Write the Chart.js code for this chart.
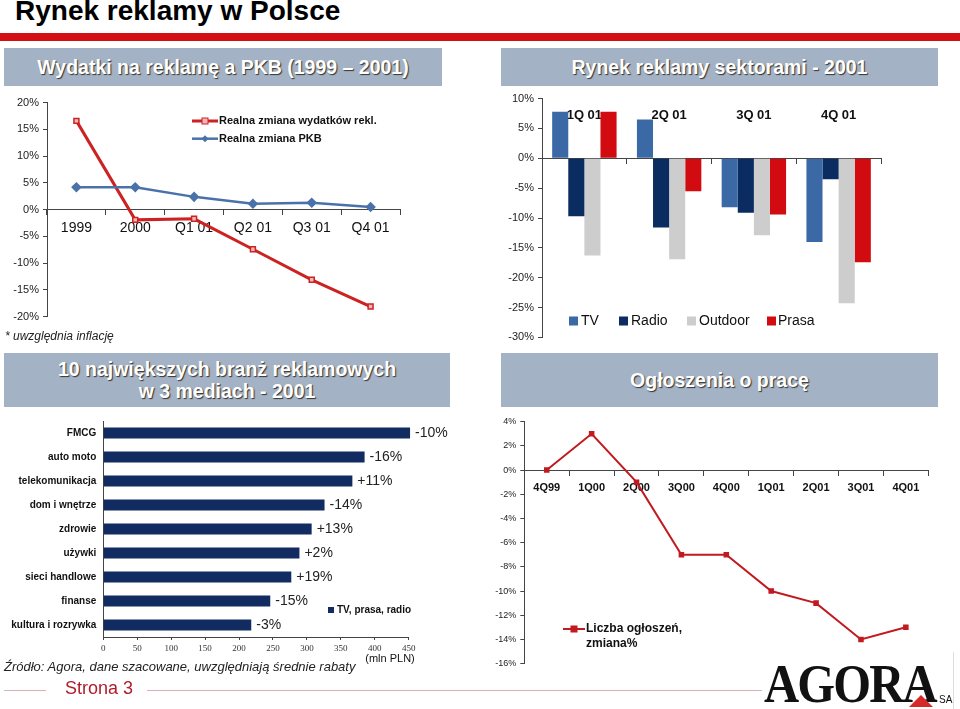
<!DOCTYPE html>
<html>
<head>
<meta charset="utf-8">
<script src="https://cdn.jsdelivr.net/npm/chart.js@4"></script>
<style>
  body { margin: 0; width: 960px; height: 709px; background: #fff; position: relative; overflow: hidden; font-family: "Liberation Sans", Arial, sans-serif; }
  .abs { position: absolute; }
  .hdr { position: absolute; background: #a3b2c4; color: #fff; font-weight: bold; font-size: 19.5px; text-align: center;
         text-shadow: 1px 1px 1px #333; display: flex; align-items: center; justify-content: center; line-height: 22px; }
  canvas { position: absolute; }
</style>
</head>
<body>
<div class="abs" style="left:15px; top:-5px; font-size:28px; font-weight:bold; color:#000; white-space:nowrap;">Rynek reklamy w Polsce</div>
<div class="abs" style="left:0; top:33px; width:960px; height:8px; background:#d40f14;"></div>

<div class="hdr" style="left:4px; top:48px; width:438px; height:38px;">Wydatki na reklamę a PKB (1999 – 2001)</div>
<div class="hdr" style="left:501px; top:48px; width:437px; height:38px;">Rynek reklamy sektorami - 2001</div>
<div class="hdr" style="left:4px; top:353px; width:446px; height:54px;">10 największych branż reklamowych<br>w 3 mediach - 2001</div>
<div class="hdr" style="left:501px; top:353px; width:437px; height:54px;">Ogłoszenia o pracę</div>

<canvas id="c1" width="480" height="250" style="left:0; top:90px;"></canvas>
<canvas id="c2" width="480" height="260" style="left:480px; top:88px;"></canvas>
<canvas id="c3" width="480" height="262" style="left:0; top:408px;"></canvas>
<canvas id="c4" width="480" height="265" style="left:480px; top:408px;"></canvas>

<div class="abs" style="left:5px; top:329px; font-size:12px; font-style:italic; color:#222;">* uwzględnia inflację</div>
<div class="abs" style="left:4px; top:659px; font-size:13px; font-style:italic; color:#222; white-space:nowrap;">Źródło: Agora, dane szacowane, uwzględniają średnie rabaty</div>

<div class="abs" style="left:4px; top:690px; width:42px; height:1px; background:#d9b3b3;"></div>
<div class="abs" style="left:147px; top:690px; width:615px; height:1px; background:#d9b3b3;"></div>
<div class="abs" style="left:65px; top:678px; font-size:18px; color:#b01c2b;">Strona 3</div>

<div class="abs" style="left:764px; top:654px; font-family:'Liberation Serif', serif; font-weight:bold; font-size:54px; color:#111; letter-spacing:-2px; line-height:60px; transform:scaleX(0.9); transform-origin:left top;">AGORA</div>
<div class="abs" style="left:909px; top:695px; width:0; height:0; border-left:12px solid transparent; border-right:12px solid transparent; border-bottom:12px solid #d62a2a;"></div>
<div class="abs" style="left:939px; top:694px; font-size:10px; color:#111;">SA</div>
<div class="abs" style="left:953px; top:652px; width:1px; height:57px; background:#ddd;"></div>

<script>
// --- Wydatki na reklamę a PKB ---
const periods1 = ['1999', '2000', 'Q1 01', 'Q2 01', 'Q3 01', 'Q4 01'];
const adSpend = [16.6, -1.9, -1.7, -7.4, -13.1, -18.1];
const gdp = [4.2, 4.2, 2.4, 1.1, 1.3, 0.5];

// --- Rynek reklamy sektorami ---
const quarters2 = ['1Q 01', '2Q 01', '3Q 01', '4Q 01'];
const tvVals = [7.8, 6.5, -8.2, -14.0];
const radioVals = [-9.7, -11.6, -9.1, -3.5];
const outdoorVals = [-16.3, -16.9, -12.9, -24.3];
const prasaVals = [7.8, -5.5, -9.4, -17.4];

// --- 10 największych branż ---
const branches = ['FMCG', 'auto moto', 'telekomunikacja', 'dom i wnętrze', 'zdrowie', 'używki', 'sieci handlowe', 'finanse', 'kultura i rozrywka'];
const spend = [452, 385, 367, 326, 307, 289, 277, 246, 218];
const changeLabels = ['-10%', '-16%', '+11%', '-14%', '+13%', '+2%', '+19%', '-15%', '-3%'];

// --- Ogłoszenia o pracę ---
const quarters4 = ['4Q99', '1Q00', '2Q00', '3Q00', '4Q00', '1Q01', '2Q01', '3Q01', '4Q01'];
const jobAds = [0, 3, -1, -7, -7, -10, -11, -14, -13];

const FONT = "'Liberation Sans', Arial, sans-serif";
const pct = v => v + '%';

// draws small legends / notes inside the canvas
const overlayLegend = {
    id: 'overlayLegend',
    afterDraw(chart, args, opts) {
        const ctx = chart.ctx;
        (opts.items || []).forEach(it => {
            ctx.save();
            if (it.kind === 'box') {
                ctx.fillStyle = it.color;
                ctx.fillRect(it.x, it.y - it.size / 2, it.size, it.size);
            } else if (it.kind === 'line') {
                ctx.strokeStyle = it.color;
                ctx.lineWidth = it.width || 2;
                ctx.beginPath();
                ctx.moveTo(it.x, it.y);
                ctx.lineTo(it.x + it.len, it.y);
                ctx.stroke();
                const mx = it.x + it.len / 2;
                ctx.fillStyle = it.markerFill || it.color;
                if (it.marker === 'diamond') {
                    ctx.beginPath();
                    ctx.moveTo(mx, it.y - 3.5); ctx.lineTo(mx + 3.5, it.y);
                    ctx.lineTo(mx, it.y + 3.5); ctx.lineTo(mx - 3.5, it.y);
                    ctx.closePath(); ctx.fill();
                } else {
                    ctx.fillRect(mx - 3, it.y - 3, 6, 6);
                    ctx.lineWidth = 1;
                    ctx.strokeRect(mx - 3, it.y - 3, 6, 6);
                }
            }
            if (it.text) {
                ctx.fillStyle = it.textColor || '#111';
                ctx.font = it.font;
                ctx.textBaseline = 'middle';
                ctx.textAlign = it.align || 'left';
                it.text.forEach((t, i) => ctx.fillText(t, it.tx, it.y + i * (it.lh || 15)));
            }
            ctx.restore();
        });
    }
};

// labels at the end of the horizontal bars
const barEndLabels = {
    id: 'barEndLabels',
    afterDatasetsDraw(chart, args, opts) {
        if (!opts.labels) return;
        const ctx = chart.ctx;
        const meta = chart.getDatasetMeta(0);
        ctx.save();
        ctx.font = opts.font;
        ctx.fillStyle = '#222';
        ctx.textBaseline = 'middle';
        meta.data.forEach((bar, i) => ctx.fillText(opts.labels[i], bar.x + 5, bar.y));
        ctx.restore();
    }
};

Chart.register(overlayLegend, barEndLabels);
Chart.defaults.font.family = FONT;
Chart.defaults.color = '#222';
Chart.defaults.animation = false;
Chart.defaults.responsive = false;
Chart.defaults.plugins.legend.display = false;
Chart.defaults.plugins.tooltip.enabled = false;

const axisColor = '#444';

// chart 1
new Chart(document.getElementById('c1'), {
    type: 'line',
    data: {
        labels: periods1,
        datasets: [{
            label: 'Realna zmiana PKB',
            data: gdp,
            borderColor: '#4a72aa',
            backgroundColor: '#4a72aa',
            borderWidth: 2.5,
            pointStyle: 'rectRot',
            pointRadius: 3.5
        }, {
            label: 'Realna zmiana wydatków rekl.',
            data: adSpend,
            borderColor: '#cc2222',
            backgroundColor: '#f2b8b8',
            borderWidth: 3,
            pointStyle: 'rect',
            pointRadius: 3.5,
            pointBorderWidth: 1.5
        }]
    },
    options: {
        layout: { padding: { top: 12.7, right: 80, bottom: 23.3, left: 0 } },
        scales: {
            x: {
                position: { y: 0 },
                offset: true,
                border: { color: axisColor, width: 1 },
                grid: { offset: true, drawOnChartArea: false, tickLength: 5, color: axisColor },
                ticks: { font: { size: 14 }, padding: 5, color: '#111', maxRotation: 0 }
            },
            y: {
                min: -20, max: 20,
                afterFit: s => { s.width = 47; },
                border: { color: axisColor, width: 1 },
                grid: { drawOnChartArea: false, tickLength: 4, color: axisColor },
                ticks: { stepSize: 5, callback: pct, font: { size: 11 }, padding: 4 }
            }
        },
        plugins: {
            overlayLegend: { items: [
                { kind: 'line', x: 192, y: 31, len: 26, color: '#cc2222', markerFill: '#f2b8b8', width: 3,
                  text: ['Realna zmiana wydatków rekl.'], tx: 219, font: "bold 11px " + FONT },
                { kind: 'line', x: 192, y: 48.7, len: 26, color: '#4a72aa', marker: 'diamond', width: 2.5,
                  text: ['Realna zmiana PKB'], tx: 219, font: "bold 11px " + FONT }
            ] }
        }
    }
});

// chart 2
const barOpts = { categoryPercentage: 0.76, barPercentage: 1.0 };
new Chart(document.getElementById('c2'), {
    type: 'bar',
    data: {
        labels: quarters2,
        datasets: [
            { label: 'TV', data: tvVals, backgroundColor: '#3b69a6', ...barOpts },
            { label: 'Radio', data: radioVals, backgroundColor: '#0b2c60', ...barOpts },
            { label: 'Outdoor', data: outdoorVals, backgroundColor: '#cdcdcd', ...barOpts },
            { label: 'Prasa', data: prasaVals, backgroundColor: '#d10b0f', ...barOpts }
        ]
    },
    options: {
        layout: { padding: { top: 9.7, right: 79, bottom: 10.3, left: 0 } },
        scales: {
            x: {
                position: { y: 0 },
                border: { color: axisColor, width: 1 },
                grid: { offset: true, drawOnChartArea: false, tickLength: 5, color: axisColor },
                ticks: { display: false }
            },
            x2: {
                type: 'category',
                axis: 'x',
                labels: quarters2,
                position: { y: 10 },
                offset: true,
                border: { display: false },
                grid: { display: false },
                ticks: { font: { size: 13, weight: 'bold' }, color: '#111', padding: 1, maxRotation: 0 }
            },
            y: {
                min: -30, max: 10,
                afterFit: s => { s.width = 62; },
                border: { color: axisColor, width: 1 },
                grid: { drawOnChartArea: false, tickLength: 4, color: axisColor },
                ticks: { stepSize: 5, callback: pct, font: { size: 11 }, padding: 4 }
            }
        },
        plugins: {
            overlayLegend: { items: [
                { kind: 'box', x: 89, y: 233, size: 9, color: '#3b69a6', text: ['TV'], tx: 101, font: "14px " + FONT },
                { kind: 'box', x: 139, y: 233, size: 9, color: '#0b2c60', text: ['Radio'], tx: 151, font: "14px " + FONT },
                { kind: 'box', x: 207, y: 233, size: 9, color: '#cdcdcd', text: ['Outdoor'], tx: 219, font: "14px " + FONT },
                { kind: 'box', x: 287, y: 233, size: 9, color: '#d10b0f', text: ['Prasa'], tx: 298, font: "14px " + FONT }
            ] }
        }
    }
});

// chart 3
new Chart(document.getElementById('c3'), {
    type: 'bar',
    data: {
        labels: branches,
        datasets: [{ label: 'TV, prasa, radio', data: spend, backgroundColor: '#122c62',
                     categoryPercentage: 1.0, barPercentage: 0.45, clip: false }]
    },
    options: {
        indexAxis: 'y',
        layout: { padding: { top: 5, right: 71.3, bottom: 0, left: 0 } },
        scales: {
            x: {
                min: 0, max: 450,
                afterFit: s => { s.height = 33; },
                border: { color: axisColor, width: 1 },
                grid: { drawOnChartArea: false, tickLength: 3, color: axisColor },
                ticks: { stepSize: 50, font: { family: "'Liberation Serif', serif", size: 9 }, color: '#333', padding: 3 }
            },
            y: {
                afterFit: s => { s.width = 103.3; },
                border: { color: axisColor, width: 1 },
                grid: { drawOnChartArea: false, drawTicks: false },
                ticks: { font: { size: 10, weight: 'bold' }, color: '#111', padding: 7 }
            }
        },
        plugins: {
            barEndLabels: { labels: changeLabels, font: "14px " + FONT },
            overlayLegend: { items: [
                { kind: 'box', x: 328, y: 202, size: 6, color: '#122c62', text: ['TV, prasa, radio'], tx: 337, font: "bold 10px " + FONT },
                { kind: 'none', y: 251, text: ['(mln PLN)'], tx: 390, align: 'center', font: "11px " + FONT }
            ] }
        }
    }
});

// chart 4
new Chart(document.getElementById('c4'), {
    type: 'line',
    data: {
        labels: quarters4,
        datasets: [{
            label: 'Liczba ogłoszeń, zmiana%',
            data: jobAds,
            borderColor: '#c11a1f',
            backgroundColor: '#c11a1f',
            borderWidth: 2,
            pointStyle: 'rect',
            pointRadius: 2.5
        }]
    },
    options: {
        layout: { padding: { top: 13.7, right: 31.7, bottom: 5.3, left: 0 } },
        scales: {
            x: {
                position: { y: 0 },
                offset: true,
                border: { color: axisColor, width: 1 },
                grid: { offset: true, drawOnChartArea: false, tickLength: 5, color: axisColor },
                ticks: { font: { size: 11, weight: 'bold' }, color: '#111', padding: 6, maxRotation: 0 }
            },
            y: {
                min: -16, max: 4,
                afterFit: s => { s.width = 44.3; },
                border: { color: axisColor, width: 1 },
                grid: { drawOnChartArea: false, tickLength: 4, color: axisColor },
                ticks: { stepSize: 2, callback: pct, font: { size: 9 }, padding: 4 }
            }
        },
        plugins: {
            overlayLegend: { items: [
                { kind: 'line', x: 83, y: 221, len: 22, color: '#c11a1f', width: 2,
                  text: ['Liczba ogłoszeń,', 'zmiana%'], tx: 106, lh: 15, font: "bold 12px " + FONT }
            ] }
        }
    }
});
</script>
</body>
</html>
